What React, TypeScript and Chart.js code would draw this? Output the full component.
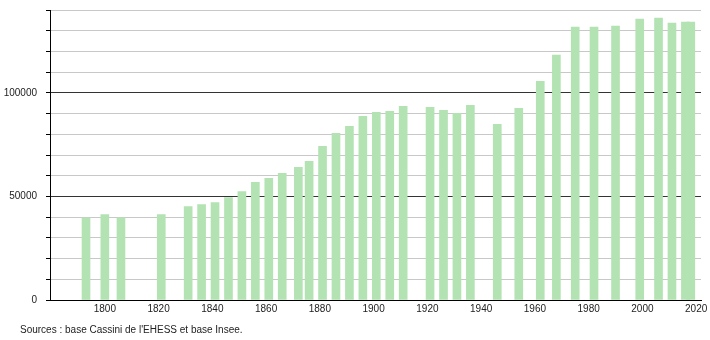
import React, { useEffect, useRef } from "react";
import { Chart, registerables } from "chart.js";

Chart.register(...registerables);

const years = [
  1793, 1800, 1806, 1821, 1831, 1836, 1841, 1846, 1851, 1856, 1861, 1866, 1872,
  1876, 1881, 1886, 1891, 1896, 1901, 1906, 1911, 1921, 1926, 1931, 1936, 1946,
  1954, 1962, 1968, 1975, 1982, 1990, 1999, 2006, 2011, 2016, 2018,
];
const population = [
  39670, 41270, 39670, 41270, 45140, 46110, 47080, 49500, 52400, 56750, 58690,
  61110, 64010, 66910, 74170, 80460, 83850, 88680, 90620, 91100, 93520, 93040,
  91590, 90130, 94000, 84810, 92560, 105620, 118200, 131740, 131740, 132220,
  135600, 136100, 133670, 134160, 134160,
];
const xTickLabels = [1800, 1820, 1840, 1860, 1880, 1900, 1920, 1940, 1960, 1980, 2000, 2020];
const yLabelled = [0, 50000, 100000];
const yMajor = [50000, 100000];
const sourceText = "Sources : base Cassini de l'EHESS et base Insee.";

const FONT = "'Liberation Sans', Arial, sans-serif";

export default function App() {
  const ref = useRef<HTMLCanvasElement | null>(null);

  useEffect(() => {
    const canvas = ref.current;
    if (!canvas) return;

    const footer = {
      id: "footer",
      afterDraw(chart: any) {
        const ctx = chart.ctx;
        ctx.save();
        ctx.font = `10px ${FONT}`;
        ctx.fillStyle = "#222";
        ctx.textAlign = "left";
        ctx.textBaseline = "middle";
        ctx.fillText(sourceText, 20, 330);
        ctx.restore();
      },
    };

    const chart = new Chart(canvas, {
      type: "bar",
      data: {
        datasets: [
          {
            data: years.map((y, i) => ({ x: y, y: population[i] })),
            backgroundColor: "#b3e3b3",
            borderWidth: 0,
            barThickness: 8,
            grouped: false,
          } as any,
        ],
      },
      plugins: [footer],
      options: {
        animation: false,
        responsive: false,
        maintainAspectRatio: false,
        layout: { padding: { top: 10, right: 9, left: 0, bottom: 0 } },
        plugins: {
          legend: { display: false },
          tooltip: { enabled: false },
          title: { display: false },
        },
        scales: {
          x: {
            type: "linear",
            min: 1779.6,
            max: 2021.8,
            offset: false,
            afterBuildTicks: (scale: any) => {
              scale.ticks = xTickLabels.map((v) => ({ value: v }));
            },
            afterFit: (scale: any) => {
              scale.height = 40;
              scale.paddingLeft = 0;
              scale.paddingRight = 0;
              scale.paddingTop = 0;
              scale.paddingBottom = 0;
            },
            grid: { display: false, drawTicks: false },
            border: { display: true, color: "#000", width: 1 },
            ticks: {
              autoSkip: false,
              maxRotation: 0,
              padding: 3,
              color: "#222",
              font: { family: FONT, size: 10 },
              callback: (v: any) => String(v),
            },
          },
          y: {
            type: "linear",
            min: 0,
            max: 140000,
            afterFit: (scale: any) => {
              scale.width = 50;
              scale.paddingLeft = 0;
              scale.paddingRight = 0;
              scale.paddingTop = 0;
              scale.paddingBottom = 0;
            },
            grid: {
              color: (c: any) =>
                c.tick && yMajor.includes(c.tick.value) ? "#333" : "#c8c8c8",
              tickColor: "#000",
              tickLength: 4,
              drawTicks: true,
            },
            border: { display: true, color: "#000", width: 1 },
            ticks: {
              stepSize: 10000,
              padding: 9,
              color: "#222",
              font: { family: FONT, size: 10 },
              callback: (v: any) => (yLabelled.includes(v) ? String(v) : ""),
            },
          },
        },
      },
    });

    return () => chart.destroy();
  }, []);

  return (
    <div style={{ position: "absolute", left: 0, top: 0, width: 710, height: 340, background: "#fff" }}>
      <canvas ref={ref} width={710} height={340} style={{ width: 710, height: 340, display: "block" }} />
    </div>
  );
}
